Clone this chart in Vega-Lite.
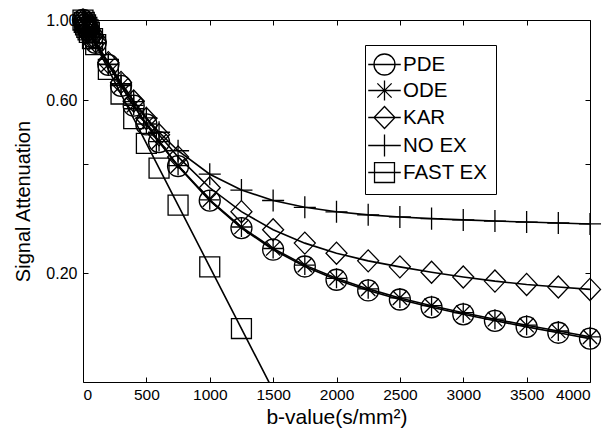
{
  "$schema": "https://vega.github.io/schema/vega-lite/v6.json",
  "width": 507,
  "height": 362,
  "autosize": "none",
  "padding": {"left": 83, "top": 20, "right": 23, "bottom": 61},
  "background": "white",
  "config": {
    "font": "Liberation Sans",
    "view": {"stroke": "black", "strokeWidth": 1},
    "axis": {"domain": false, "grid": false, "tickColor": "black", "tickWidth": 1, "labelColor": "black", "titleColor": "black", "titleFontWeight": "normal", "zindex": 0}
  },
  "data": {"values": [
    {"b": 0, "m": "PDE", "s": 1.0}, {"b": 10, "m": "PDE", "s": 0.9853}, {"b": 20, "m": "PDE", "s": 0.9709}, {"b": 30, "m": "PDE", "s": 0.9567}, {"b": 40, "m": "PDE", "s": 0.9428}, {"b": 50, "m": "PDE", "s": 0.9292}, {"b": 75, "m": "PDE", "s": 0.8961}, {"b": 100, "m": "PDE", "s": 0.8646}, {"b": 200, "m": "PDE", "s": 0.7519}, {"b": 300, "m": "PDE", "s": 0.6581}, {"b": 400, "m": "PDE", "s": 0.5799}, {"b": 500, "m": "PDE", "s": 0.5146}, {"b": 600, "m": "PDE", "s": 0.4601}, {"b": 750, "m": "PDE", "s": 0.3946}, {"b": 1000, "m": "PDE", "s": 0.317}, {"b": 1250, "m": "PDE", "s": 0.2662}, {"b": 1500, "m": "PDE", "s": 0.232}, {"b": 1750, "m": "PDE", "s": 0.2085}, {"b": 2000, "m": "PDE", "s": 0.1916}, {"b": 2250, "m": "PDE", "s": 0.179}, {"b": 2500, "m": "PDE", "s": 0.169}, {"b": 2750, "m": "PDE", "s": 0.1608}, {"b": 3000, "m": "PDE", "s": 0.1538}, {"b": 3250, "m": "PDE", "s": 0.1476}, {"b": 3500, "m": "PDE", "s": 0.142}, {"b": 3750, "m": "PDE", "s": 0.1368}, {"b": 4000, "m": "PDE", "s": 0.1318},
    {"b": 0, "m": "ODE", "s": 1.0}, {"b": 10, "m": "ODE", "s": 0.9853}, {"b": 20, "m": "ODE", "s": 0.971}, {"b": 30, "m": "ODE", "s": 0.9568}, {"b": 40, "m": "ODE", "s": 0.943}, {"b": 50, "m": "ODE", "s": 0.9294}, {"b": 75, "m": "ODE", "s": 0.8964}, {"b": 100, "m": "ODE", "s": 0.865}, {"b": 200, "m": "ODE", "s": 0.7526}, {"b": 300, "m": "ODE", "s": 0.6591}, {"b": 400, "m": "ODE", "s": 0.5811}, {"b": 500, "m": "ODE", "s": 0.516}, {"b": 600, "m": "ODE", "s": 0.4615}, {"b": 750, "m": "ODE", "s": 0.396}, {"b": 1000, "m": "ODE", "s": 0.3185}, {"b": 1250, "m": "ODE", "s": 0.268}, {"b": 1500, "m": "ODE", "s": 0.2338}, {"b": 1750, "m": "ODE", "s": 0.2103}, {"b": 2000, "m": "ODE", "s": 0.1934}, {"b": 2250, "m": "ODE", "s": 0.1808}, {"b": 2500, "m": "ODE", "s": 0.1707}, {"b": 2750, "m": "ODE", "s": 0.1625}, {"b": 3000, "m": "ODE", "s": 0.1554}, {"b": 3250, "m": "ODE", "s": 0.1491}, {"b": 3500, "m": "ODE", "s": 0.1435}, {"b": 3750, "m": "ODE", "s": 0.1383}, {"b": 4000, "m": "ODE", "s": 0.1333},
    {"b": 0, "m": "KAR", "s": 1.0}, {"b": 10, "m": "KAR", "s": 0.9859}, {"b": 20, "m": "KAR", "s": 0.9722}, {"b": 30, "m": "KAR", "s": 0.9587}, {"b": 40, "m": "KAR", "s": 0.9454}, {"b": 50, "m": "KAR", "s": 0.9323}, {"b": 75, "m": "KAR", "s": 0.9007}, {"b": 100, "m": "KAR", "s": 0.8706}, {"b": 200, "m": "KAR", "s": 0.7626}, {"b": 300, "m": "KAR", "s": 0.6724}, {"b": 400, "m": "KAR", "s": 0.5973}, {"b": 500, "m": "KAR", "s": 0.5344}, {"b": 600, "m": "KAR", "s": 0.4818}, {"b": 750, "m": "KAR", "s": 0.4185}, {"b": 1000, "m": "KAR", "s": 0.344}, {"b": 1250, "m": "KAR", "s": 0.2955}, {"b": 1500, "m": "KAR", "s": 0.2634}, {"b": 1750, "m": "KAR", "s": 0.2419}, {"b": 2000, "m": "KAR", "s": 0.2269}, {"b": 2250, "m": "KAR", "s": 0.2161}, {"b": 2500, "m": "KAR", "s": 0.208}, {"b": 2750, "m": "KAR", "s": 0.201}, {"b": 3000, "m": "KAR", "s": 0.195}, {"b": 3250, "m": "KAR", "s": 0.19}, {"b": 3500, "m": "KAR", "s": 0.186}, {"b": 3750, "m": "KAR", "s": 0.183}, {"b": 4000, "m": "KAR", "s": 0.1802},
    {"b": 0, "m": "NO EX", "s": 1.0}, {"b": 10, "m": "NO EX", "s": 0.9851}, {"b": 20, "m": "NO EX", "s": 0.9706}, {"b": 30, "m": "NO EX", "s": 0.9563}, {"b": 40, "m": "NO EX", "s": 0.9424}, {"b": 50, "m": "NO EX", "s": 0.9288}, {"b": 75, "m": "NO EX", "s": 0.8959}, {"b": 100, "m": "NO EX", "s": 0.8647}, {"b": 200, "m": "NO EX", "s": 0.7552}, {"b": 300, "m": "NO EX", "s": 0.6666}, {"b": 400, "m": "NO EX", "s": 0.5949}, {"b": 500, "m": "NO EX", "s": 0.5368}, {"b": 600, "m": "NO EX", "s": 0.4897}, {"b": 750, "m": "NO EX", "s": 0.4353}, {"b": 1000, "m": "NO EX", "s": 0.375}, {"b": 1250, "m": "NO EX", "s": 0.339}, {"b": 1500, "m": "NO EX", "s": 0.3172}, {"b": 1750, "m": "NO EX", "s": 0.3038}, {"b": 2000, "m": "NO EX", "s": 0.2952}, {"b": 2250, "m": "NO EX", "s": 0.2896}, {"b": 2500, "m": "NO EX", "s": 0.2857}, {"b": 2750, "m": "NO EX", "s": 0.2827}, {"b": 3000, "m": "NO EX", "s": 0.2804}, {"b": 3250, "m": "NO EX", "s": 0.2784}, {"b": 3500, "m": "NO EX", "s": 0.2766}, {"b": 3750, "m": "NO EX", "s": 0.2749}, {"b": 4000, "m": "NO EX", "s": 0.2733},
    {"b": 0, "m": "FAST EX", "s": 1.0}, {"b": 10, "m": "FAST EX", "s": 0.9844}, {"b": 20, "m": "FAST EX", "s": 0.9691}, {"b": 30, "m": "FAST EX", "s": 0.954}, {"b": 40, "m": "FAST EX", "s": 0.9391}, {"b": 50, "m": "FAST EX", "s": 0.9245}, {"b": 75, "m": "FAST EX", "s": 0.8889}, {"b": 100, "m": "FAST EX", "s": 0.8547}, {"b": 200, "m": "FAST EX", "s": 0.7305}, {"b": 300, "m": "FAST EX", "s": 0.6244}, {"b": 400, "m": "FAST EX", "s": 0.5337}, {"b": 500, "m": "FAST EX", "s": 0.4561}, {"b": 600, "m": "FAST EX", "s": 0.3899}, {"b": 750, "m": "FAST EX", "s": 0.308}, {"b": 1000, "m": "FAST EX", "s": 0.208}, {"b": 1250, "m": "FAST EX", "s": 0.1405}, {"b": 1500, "m": "FAST EX", "s": 0.0949}
  ]},
  "layer": [
    {
      "mark": {"type": "line", "color": "black", "strokeWidth": 1.6, "clip": true},
      "encoding": {
        "x": {"field": "b", "type": "quantitative", "scale": {"domain": [0, 4000], "nice": false},
          "axis": {"orient": "bottom", "values": [0, 500, 1000, 1500, 2000, 2500, 3000, 3500, 4000], "format": "d", "tickSize": -5, "labelPadding": 10, "labelFontSize": 15.5, "title": "b-value(s/mm²)", "titleFontSize": 21, "titlePadding": 4}},
        "y": {"field": "s", "type": "quantitative", "scale": {"type": "log", "domain": [0.1, 1], "nice": false},
          "axis": {"orient": "left", "values": [0.2, 0.4, 0.6, 1], "labelExpr": "datum.value == 0.4 ? '' : format(datum.value, '.2f')", "tickSize": -5, "labelPadding": 11, "labelFontSize": 16, "title": "Signal Attenuation", "titleFontSize": 20, "titlePadding": 12}},
        "detail": {"field": "m"}
      }
    },
    {
      "transform": [{"filter": "datum.s >= 0.1"}],
      "mark": {"type": "point", "filled": false, "color": "black", "strokeWidth": 1.3, "size": 441, "opacity": 1},
      "encoding": {
        "x": {"field": "b", "type": "quantitative",
          "axis": {"orient": "top", "values": [0, 500, 1000, 1500, 2000, 2500, 3000, 3500, 4000], "labels": false, "tickSize": -5, "title": null}},
        "y": {"field": "s", "type": "quantitative",
          "axis": {"orient": "right", "values": [0.2, 0.4, 0.6, 1], "labels": false, "tickSize": -5, "title": null}},
        "shape": {"field": "m", "type": "nominal",
          "scale": {"domain": ["PDE", "ODE", "KAR", "NO EX", "FAST EX"],
            "range": ["M-1,0A1,1 0 1,1 1,0A1,1 0 1,1 -1,0Z", "M0,-0.95V0.95M-0.95,0H0.95M-0.68,-0.68L0.68,0.68M-0.68,0.68L0.68,-0.68", "M0,-1.05L1,0L0,1.05L-1,0Z", "M0,-1.05V1.05M-1.05,0H1.05", "M-0.95,-0.95H0.95V0.95H-0.95Z"]},
          "legend": null
        }
      }
    },
    {
      "transform": [{"filter": "false"}],
      "mark": {"type": "point", "filled": false, "color": "black", "strokeWidth": 1.3, "size": 441, "opacity": 1},
      "encoding": {
        "x": {"field": "b", "type": "quantitative", "axis": null},
        "y": {"field": "s", "type": "quantitative", "axis": null},
        "shape": {"field": "m", "type": "nominal",
          "scale": {"domain": ["PDE", "ODE", "KAR", "NO EX", "FAST EX"],
            "range": ["M-1,0A1,1 0 1,1 1,0A1,1 0 1,1 -1,0ZM-1.55,0H1.55", "M0,-0.95V0.95M-0.68,-0.68L0.68,0.68M-0.68,0.68L0.68,-0.68M-1.55,0H1.55", "M0,-1.05L1,0L0,1.05L-1,0ZM-1.55,0H1.55", "M0,-1.05V1.05M-1.55,0H1.55", "M-0.95,-0.95H0.95V0.95H-0.95ZM-1.55,0H1.55"]},
          "legend": {
            "orient": "none", "legendX": 282, "legendY": 25, "title": null,
            "strokeColor": "black", "fillColor": "white", "padding": 8,
            "symbolSize": 441, "symbolStrokeWidth": 1.3, "symbolStrokeColor": "black", "symbolFillColor": "transparent", "symbolOpacity": 1,
            "labelFontSize": 20.5, "labelColor": "black", "labelOffset": 7, "rowPadding": -1,
            "labelLimit": 300
          }
        }
      }
    }
  ],
  "resolve": {"axis": {"x": "independent", "y": "independent"}, "scale": {"shape": "independent"}}
}
